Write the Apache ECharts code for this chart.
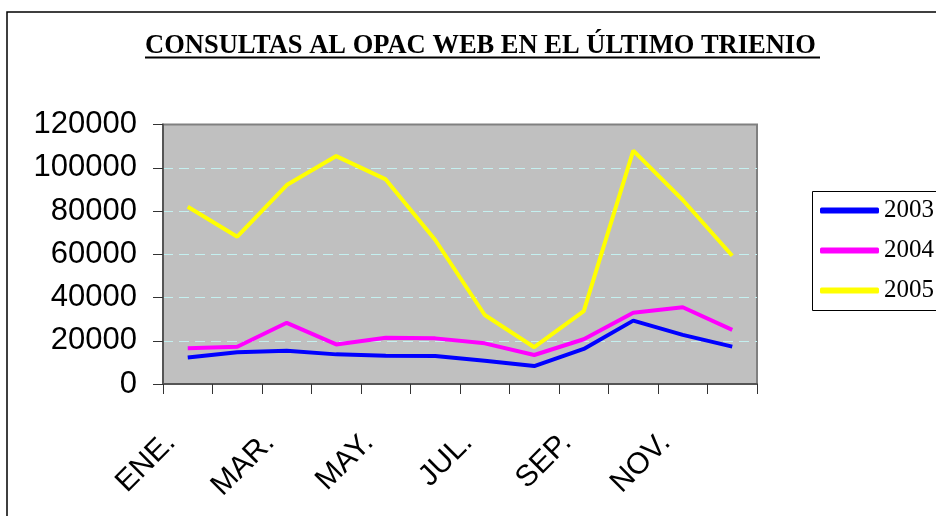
<!DOCTYPE html>
<html>
<head>
<meta charset="utf-8">
<script src="https://cdn.jsdelivr.net/npm/echarts@6/dist/echarts.min.js"></script>
<style>html,body{margin:0;padding:0;background:#fff}#c{width:936px;height:516px}</style>
</head>
<body>
<div id="c"></div>
<script>
var titleText = 'CONSULTAS AL OPAC WEB EN EL ÚLTIMO TRIENIO';
var months = ['ENE.', 'FEB.', 'MAR.', 'ABR.', 'MAY.', 'JUN.', 'JUL.', 'AGO.', 'SEP.', 'OCT.', 'NOV.', 'DIC.'];
var seriesNames = ['2003', '2004', '2005'];
var s2003 = [12300, 14700, 15400, 13700, 13100, 12900, 10800, 8300, 16200, 29300, 22700, 17300];
var s2004 = [16500, 17200, 28300, 18300, 21400, 21100, 18800, 13400, 20700, 33000, 35500, 25000];
var s2005 = [82000, 68100, 92000, 105400, 94600, 66600, 31900, 17000, 33700, 107900, 85100, 59300];
var yTicks = {min: 0, max: 120000, interval: 20000};

var chart = echarts.init(document.getElementById('c'));
var colors = ['#0000ff', '#ff00ff', '#ffff00'];
var data = [s2003, s2004, s2005];

chart.setOption({
  animation: false,
  title: {
    text: titleText,
    left: 140,
    top: 28,
    textStyle: {fontFamily: 'Liberation Serif', fontWeight: 'bold', fontSize: 26.5, color: '#000'}
  },
  graphic: [
    {type: 'rect', left: 145, top: 56.5, shape: {width: 675, height: 2}, style: {fill: '#000'}},
    {type: 'rect', shape: {x: 7, y: 12, width: 1000, height: 600}, style: {fill: 'none', stroke: '#000', lineWidth: 1.5}},
    {type: 'rect', shape: {x: 812.5, y: 191.5, width: 300, height: 119}, style: {fill: '#fff', stroke: '#000', lineWidth: 1}, z: 0}
  ],
  legend: {
    orient: 'vertical',
    left: 820,
    top: 198,
    padding: 0,
    itemWidth: 59,
    itemHeight: 6,
    itemGap: 15,
    icon: 'roundRect',
    data: seriesNames,
    textStyle: {fontFamily: 'Liberation Serif', fontSize: 25, lineHeight: 25, color: '#000'},
    z: 5
  },
  grid: {
    left: 163, right: 179, top: 124.5, bottom: 132,
    show: true, backgroundColor: '#c0c0c0', borderColor: '#808080', borderWidth: 2
  },
  xAxis: {
    type: 'category',
    data: months,
    boundaryGap: true,
    axisLine: {lineStyle: {color: '#555', width: 2}},
    axisTick: {show: true, interval: 0, length: 10, lineStyle: {color: '#333', width: 1}},
    axisLabel: {
      interval: 1, rotate: 45, margin: 37, padding: [0, 24, 0, 0],
      fontFamily: 'Liberation Sans', fontSize: 30, color: '#000'
    },
    splitLine: {show: false}
  },
  yAxis: {
    type: 'value',
    min: yTicks.min, max: yTicks.max, interval: yTicks.interval,
    axisLine: {show: true, lineStyle: {color: '#555', width: 2}},
    axisTick: {show: true, length: 10, lineStyle: {color: '#333', width: 1}},
    axisLabel: {margin: 26, fontFamily: 'Liberation Sans', fontSize: 31, color: '#000',
      formatter: function (v) { return String(v); }},
    splitLine: {show: true, showMinLine: false, showMaxLine: false, lineStyle: {color: '#c4f0f0', type: [10, 6], width: 1}}
  },
  series: seriesNames.map(function (n, i) {
    return {
      name: n, type: 'line', data: data[i], symbol: 'none',
      lineStyle: {color: colors[i], width: 4}, itemStyle: {color: colors[i]}
    };
  })
});
</script>
</body>
</html>
